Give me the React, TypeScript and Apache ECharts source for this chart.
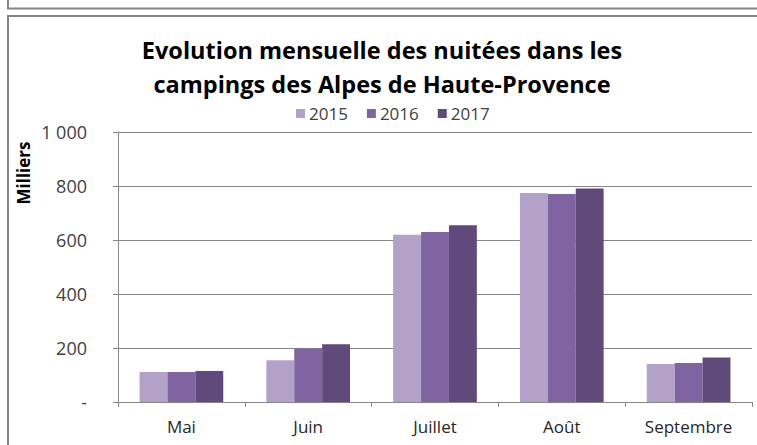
import React, { useEffect, useRef } from "react";
import * as echarts from "echarts";

const categories = ["Mai", "Juin", "Juillet", "Août", "Septembre"];
const seriesNames = ["2015", "2016", "2017"];
const values2015 = [111, 155, 619, 774, 141];
const values2016 = [111, 198, 630, 770, 144];
const values2017 = [115, 214, 655, 791, 165];
const yTicks = [0, 200, 400, 600, 800, 1000];
const colors = ["#B3A2C7", "#8064A2", "#604A7B"];

const FONT = "'Open Sans', sans-serif";

export default function App() {
  const ref = useRef<HTMLDivElement>(null);
  useEffect(() => {
    if (!ref.current) return;
    const chart = echarts.init(ref.current, null, { renderer: "svg" });
    const data = [values2015, values2016, values2017];
    chart.setOption({
      animation: false,
      backgroundColor: "#ffffff",
      textStyle: { fontFamily: FONT },
      title: {
        text: "Evolution mensuelle des nuitées dans les\ncampings des Alpes de Haute-Provence",
        left: 382,
        textAlign: "center",
        top: 33,
        padding: 0,
        textStyle: {
          fontFamily: FONT,
          fontWeight: "bold",
          fontSize: 23.5,
          lineHeight: 34,
          color: "#000000",
        },
      },
      legend: {
        data: seriesNames,
        left: 291,
        top: 100,
        icon: "rect",
        itemWidth: 9,
        itemHeight: 9,
        itemGap: 19,
        textStyle: { fontFamily: FONT, fontSize: 17, color: "#404040", padding: [0, 0, 0, -1] },
      },
      grid: { left: 118, right: 5, top: 132, bottom: 43, containLabel: false },
      xAxis: {
        type: "category",
        data: categories,
        axisLine: { lineStyle: { color: "#868686", width: 1 } },
        axisTick: { show: true, length: 5, lineStyle: { color: "#868686" } },
        axisLabel: { fontFamily: FONT, fontSize: 17, color: "#262626", margin: 16 },
      },
      yAxis: {
        type: "value",
        min: 0,
        max: 1000,
        interval: 200,
        axisLine: { show: true, lineStyle: { color: "#868686", width: 1 } },
        axisTick: { show: true, length: 5, lineStyle: { color: "#868686" } },
        splitLine: { lineStyle: { color: "#868686", width: 1 } },
        axisLabel: {
          fontFamily: FONT,
          fontSize: 18,
          color: "#404040",
          margin: 31,
          formatter: (v: number) =>
            v === 0 ? "-" : yTicks.includes(v) && v >= 1000 ? "1 000" : String(v),
        },
      },
      series: data.map((d, i) => ({
        name: seriesNames[i],
        type: "bar",
        data: d,
        barGap: "0%",
        barCategoryGap: "34%",
        itemStyle: { color: colors[i] },
      })),
      graphic: [
        {
          type: "polyline",
          shape: { points: [[8, 0], [8, 8.5], [757, 8.5]] },
          style: { stroke: "#868686", lineWidth: 2, fill: "none" },
        },
        {
          type: "polyline",
          shape: { points: [[8, 445], [8, 16], [757, 16]] },
          style: { stroke: "#868686", lineWidth: 2, fill: "none" },
        },
        {
          type: "text",
          x: 23,
          y: 173,
          rotation: Math.PI / 2,
          style: {
            text: "Milliers",
            fontFamily: FONT,
            fontWeight: "bold",
            fontSize: 17,
            fill: "#000000",
            align: "center",
            verticalAlign: "middle",
          },
        },
      ],
    });
    return () => chart.dispose();
  }, []);
  return (
    <div
      ref={ref}
      style={{ position: "absolute", left: 0, top: 0, width: 757, height: 445 }}
    />
  );
}
